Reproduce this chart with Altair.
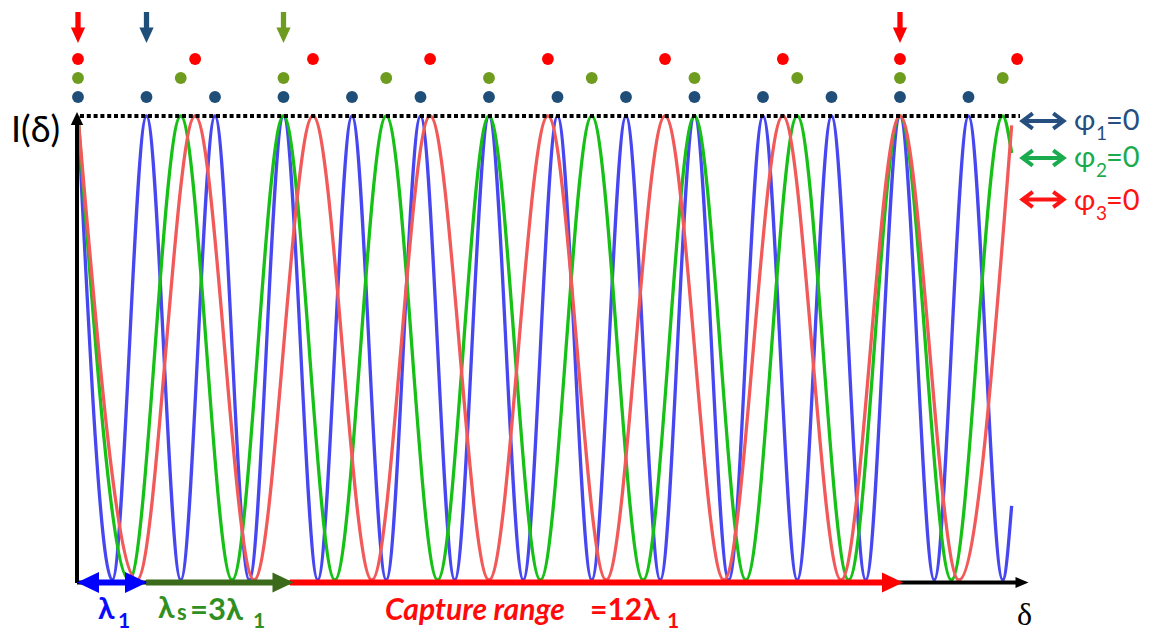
import altair as alt
import pandas as pd

# ---------------- data ----------------
# x in units of lambda_1, intensity I normalised 0..1
blue_x = [0, 0.5, 1, 1.5, 2, 2.5, 3, 3.5, 4, 4.5, 5, 5.5, 6, 6.5, 7, 7.5,
          8, 8.5, 9, 9.5, 10, 10.5, 11, 11.5, 12, 12.5, 13, 13.5, 13.63]
blue_i = [1, 0, 1, 0, 1, 0, 1, 0, 1, 0, 1, 0, 1, 0, 1, 0,
          1, 0, 1, 0, 1, 0, 1, 0, 1, 0, 1, 0, 0.16]
green_x = [0, 0.75, 1.5, 2.25, 3, 3.75, 4.5, 5.25, 6, 6.75, 7.5, 8.25,
           9, 9.75, 10.5, 11.25, 12, 12.75, 13.5, 13.63]
green_i = [1, 0, 1, 0, 1, 0, 1, 0, 1, 0, 1, 0, 1, 0, 1, 0, 1, 0, 1, 0.92]
red_x = [0, 0.86, 1.71, 2.57, 3.43, 4.29, 5.14, 6.0, 6.86, 7.71, 8.57,
         9.43, 10.29, 11.14, 12.0, 12.86, 13.63]
red_i = [1, 0, 1, 0, 1, 0, 1, 0, 1, 0, 1, 0, 1, 0, 1, 0, 0.98]

blue_peaks = [0, 1, 2, 3, 4, 5, 6, 7, 8, 9, 10, 11, 12, 13]
green_peaks = [0, 1.5, 3, 4.5, 6, 7.5, 9, 10.5, 12, 13.5]
red_peaks = [0, 1.71, 3.43, 5.14, 6.86, 8.57, 10.29, 12.0, 13.71]

marker_x = [0, 1, 3, 12]
marker_series = ["red", "blue", "green", "red"]

legend_labels = ["φ", "φ", "φ"]
legend_subs = ["1", "2", "3"]

# ---------------- styling ----------------
W, H = 1136, 625
XS = alt.Scale(domain=[-1.021898, 15.562044], nice=False, zero=False)
YS = alt.Scale(domain=[-0.114224, 1.232759], nice=False, zero=False)

curve_colors = {"blue": "#4747f2", "green": "#16c016", "red": "#f25a5a"}
dot_colors = {"blue": "#1f4e79", "green": "#6e9c1e", "red": "#ff0000"}
legend_colors = ["#264f80", "#1aab4e", "#ff1414"]

one = pd.DataFrame({"k": [0]})


def X(f="x"):
    return alt.X(f + ":Q", scale=XS, axis=None)


def Y(f="i"):
    return alt.Y(f + ":Q", scale=YS, axis=None)


curves = pd.concat([
    pd.DataFrame({"x": blue_x, "i": blue_i, "s": "blue"}),
    pd.DataFrame({"x": green_x, "i": green_i, "s": "green"}),
    pd.DataFrame({"x": red_x, "i": red_i, "s": "red"}),
])

layers = []
for s in ["blue", "green", "red"]:
    layers.append(
        alt.Chart(curves[curves.s == s]).mark_line(
            interpolate="monotone", strokeWidth=3.3, color=curve_colors[s]
        ).encode(x=X(), y=Y())
    )

# dotted level line at I = 1
layers.append(
    alt.Chart(one).mark_rule(color="black", strokeWidth=4, strokeDash=[4, 2.8]).encode(
        x=alt.value(72), x2=alt.value(1012), y=alt.YDatum(1, scale=YS, axis=None)
    )
)

# peak dots
for s, peaks, py in [("blue", blue_peaks, 89), ("green", green_peaks, 70), ("red", red_peaks, 51)]:
    layers.append(
        alt.Chart(pd.DataFrame({"x": peaks})).mark_circle(
            size=140, opacity=1, color=dot_colors[s]
        ).encode(x=X(), y=alt.value(py))
    )

# coincidence arrows at the top
down_arrow = "M-0.17,-1L0.17,-1L0.17,0L0.46,0L0,1L-0.46,0L-0.17,0Z"
mk = pd.DataFrame({"x": marker_x, "s": marker_series})
for s in ["red", "blue", "green"]:
    layers.append(
        alt.Chart(mk[mk.s == s]).mark_point(
            shape=down_arrow, size=961, filled=True, opacity=1, color=dot_colors[s]
        ).encode(x=X(), y=alt.value(19.5))
    )

# axes
layers.append(alt.Chart(one).mark_rule(color="black", strokeWidth=4).encode(
    x=alt.value(69), y=alt.value(575), y2=alt.value(114)))
layers.append(alt.Chart(one).mark_point(shape="M0,-1L0.95,1L-0.95,1Z", size=169, filled=True,
                                        opacity=1, color="black").encode(
    x=alt.value(69), y=alt.value(110.5)))
layers.append(alt.Chart(one).mark_rule(color="black", strokeWidth=4).encode(
    x=alt.value(69), x2=alt.value(1008), y=alt.value(574.5)))
layers.append(alt.Chart(one).mark_point(shape="M1,0L-1,-0.85L-1,0.85Z", size=169, filled=True,
                                        opacity=1, color="black").encode(
    x=alt.value(1014), y=alt.value(574.5)))

# range arrows along the bottom
right_head = "M1,0L-1,-0.95L-1,0.95Z"
left_head = "M-1,0L1,-0.95L1,0.95Z"


def shaft(x1, x2, color):
    return alt.Chart(one).mark_rule(color=color, strokeWidth=6).encode(
        x=alt.value(x1), x2=alt.value(x2), y=alt.value(574.5))


def head(xc, color, shape, size):
    return alt.Chart(one).mark_point(shape=shape, size=size, filled=True, opacity=1,
                                     color=color).encode(x=alt.value(xc), y=alt.value(574.5))


layers += [
    shaft(282, 876, "#ff0000"), head(884.5, "#ff0000", right_head, 441),
    shaft(138, 267, "#3a6a1a"), head(275, "#3a6a1a", right_head, 441),
    shaft(88, 120, "#0000ff"), head(80, "#0000ff", left_head, 484),
    head(128, "#0000ff", right_head, 484),
]


def txt(t, x, y, size, color="black", weight="normal", style="normal", font="Lato"):
    return alt.Chart(one).mark_text(
        text=t, align="left", baseline="alphabetic", fontSize=size, color=color,
        fontWeight=weight, fontStyle=style, font=font
    ).encode(x=alt.value(x), y=alt.value(y))


# y label and x label
layers.append(txt("I(δ)", 3, 134, 36))
layers.append(txt("δ", 1009, 617, 32, font="Liberation Serif"))

# legend on the right
legend_arrow = "M-1,0L1,0M-0.5,-0.37L-1,0L-0.5,0.37M0.5,-0.37L1,0L0.5,0.37"
for k, (cy, by) in enumerate([(113, 122), (150, 159), (191.5, 202)]):
    c = legend_colors[k]
    layers.append(alt.Chart(one).mark_point(shape=legend_arrow, size=1681, filled=False,
                                            strokeWidth=4, opacity=1, color=c).encode(
        x=alt.value(1035), y=alt.value(cy)))
    layers.append(txt(legend_labels[k], 1066, by, 29, c))
    layers.append(txt(legend_subs[k], 1088, by + 10, 19, c))
    layers.append(txt("=0", 1098, by, 29, c))

# bottom labels
blue_t = "#0a0aff"
green_t = "#2f8f22"
red_t = "#ff0a0a"
layers += [
    txt("λ", 90, 611, 30, blue_t, "bold"),
    txt("1", 110, 620, 21, blue_t, "bold"),
    txt("λ", 150, 610, 30, green_t, "bold"),
    txt("s", 169, 612, 22, green_t, "bold"),
    txt("=3λ", 182, 612, 31, green_t, "bold"),
    txt("1", 245, 620, 21, green_t, "bold"),
    txt("Capture range", 377, 612, 30, red_t, "bold", "italic"),
    txt("=12", 582, 612, 30, red_t, "bold"),
    txt("λ", 635, 612, 30, red_t, "bold"),
    txt("1", 659, 620, 21, red_t, "bold"),
]

chart = alt.layer(*layers).properties(
    width=W, height=H, padding=0,
    autosize=alt.AutoSizeParams(type="none"),
).configure_view(stroke=None).configure_axis(disable=True)

chart.save("out.html", embed_options={"renderer": "svg", "actions": False})
